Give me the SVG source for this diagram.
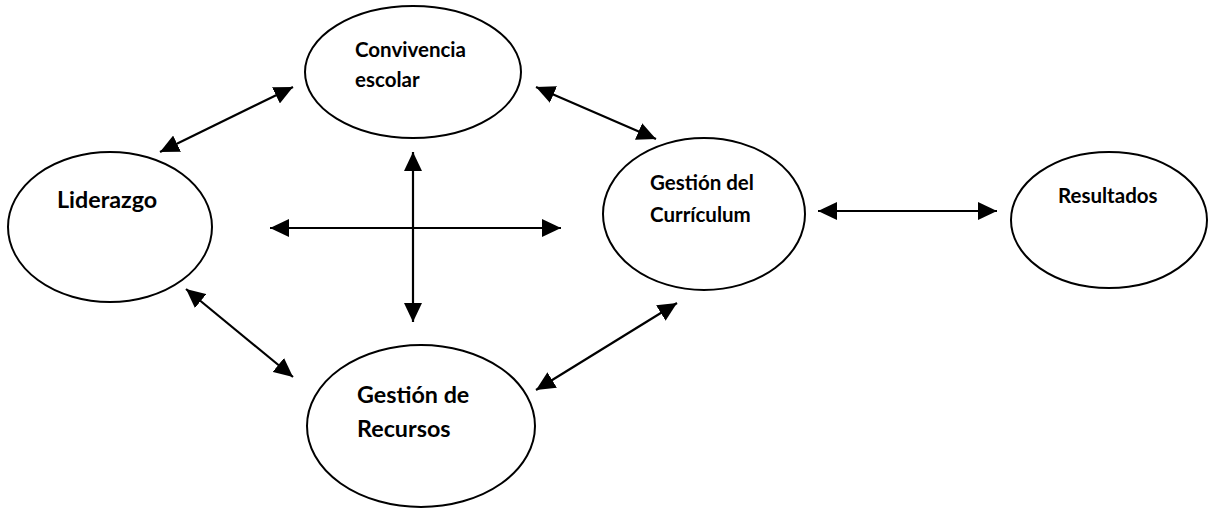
<svg xmlns="http://www.w3.org/2000/svg" width="1210" height="509" viewBox="0 0 1210 509">
<style>
.n{fill:#fff;stroke:#000;stroke-width:2}
.t{font-family:Lato,"Open Sans","Liberation Sans",sans-serif;font-weight:bold;fill:#000}
.s{font-size:20.5px}
.b{font-size:23.3px}
.c{stroke:#000;stroke-width:2.2;fill:none;marker-start:url(#ah);marker-end:url(#ah)}
</style>
<defs>
<marker id="ah" markerUnits="userSpaceOnUse" markerWidth="19" markerHeight="18" refX="19" refY="9" orient="auto-start-reverse" viewBox="0 0 19 18">
<path d="M0,0 L19,9 L0,18 z" fill="#000"/>
</marker>
</defs>
<rect width="1210" height="509" fill="#fff"/>
<g id="convivencia">
<ellipse class="n" cx="413" cy="72" rx="108" ry="66"/>
<text class="t s" x="355" y="57">Convivencia</text>
<text class="t s" x="355" y="87">escolar</text>
</g>
<g id="liderazgo">
<ellipse class="n" cx="110" cy="227" rx="102" ry="75"/>
<text class="t b" x="57" y="208">Liderazgo</text>
</g>
<g id="curriculum">
<ellipse class="n" cx="704" cy="214" rx="101" ry="76"/>
<text class="t s" x="650" y="190">Gestión del</text>
<text class="t s" x="650" y="222">Currículum</text>
</g>
<g id="resultados">
<ellipse class="n" cx="1109" cy="220" rx="98" ry="68"/>
<text class="t s" x="1058" y="203">Resultados</text>
</g>
<g id="recursos">
<ellipse class="n" cx="421" cy="426" rx="114" ry="81"/>
<text class="t b" x="357" y="403">Gestión de</text>
<text class="t b" x="357" y="437">Recursos</text>
</g>
<g id="connectors">
<line class="c" x1="160" y1="152" x2="293" y2="87"/>
<line class="c" x1="536" y1="87" x2="656" y2="139"/>
<line class="c" x1="270" y1="228" x2="561" y2="228"/>
<line class="c" x1="413" y1="152" x2="413" y2="322"/>
<line class="c" x1="186" y1="289" x2="293" y2="377"/>
<line class="c" x1="536" y1="390" x2="677" y2="303"/>
<line class="c" x1="818" y1="211" x2="997" y2="211"/>
</g>
</svg>
